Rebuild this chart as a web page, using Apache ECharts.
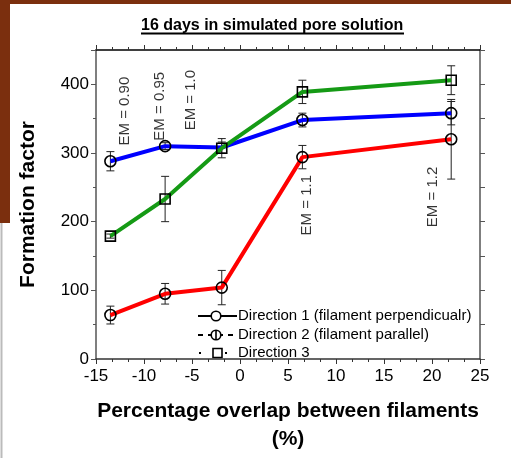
<!DOCTYPE html>
<html><head><meta charset="utf-8">
<script src="https://cdn.jsdelivr.net/npm/echarts@6/dist/echarts.min.js"></script>
<style>html,body{margin:0;padding:0;background:#fff}#c{width:511px;height:458px}</style>
</head><body><div id="c"></div>
<script>
const overlap = [-13.5, -7.8, -1.9, 6.5, 22];
const dir1 = [288, 310, 308, 348, 358];
const err1 = [14, 5, 8, 10, 17];
const dir2 = [64, 95, 104, 294, 320];
const err2 = [13, 15, 25, 17, 58];
const dir3 = [179, 233, 307, 389, 406];
const err3 = [3, 33, 14, 17, 21];
const emX = [-12, -8.3, -5.1, 7.0, 20.1];
const emY = [361, 368, 377, 224, 236];
const emText = ['EM = 0.90', 'EM = 0.95', 'EM = 1.0', 'EM = 1.1', 'EM = 1.2'];
const names = ['Direction 1 (filament perpendicualr)', 'Direction 2 (filament parallel)', 'Direction 3'];
const xTicks = [-15, 25, 5];
const yTicks = [0, 450, 100];

const F = "'Liberation Sans', Arial, sans-serif";
const chart = echarts.init(document.getElementById('c'));

function pts(v, skip) { return overlap.map((x, i) => skip && skip.includes(i) ? {value:[x, v[i]], symbol:'none'} : [x, v[i]]); }
function errData(v, e) { return overlap.map((x, i) => [x, v[i] - e[i], v[i] + e[i]]); }
function errSeries(v, e) {
  return {
    type: 'custom', z: 5, silent: true,
    data: errData(v, e),
    renderItem: function (params, api) {
      const lo = api.coord([api.value(0), api.value(1)]);
      const hi = api.coord([api.value(0), api.value(2)]);
      const w = 4;
      const st = {stroke: '#222', lineWidth: 1};
      return {type: 'group', children: [
        {type: 'line', shape: {x1: lo[0], y1: lo[1], x2: hi[0], y2: hi[1]}, style: st},
        {type: 'line', shape: {x1: lo[0]-w, y1: lo[1], x2: lo[0]+w, y2: lo[1]}, style: st},
        {type: 'line', shape: {x1: hi[0]-w, y1: hi[1], x2: hi[0]+w, y2: hi[1]}, style: st}
      ]};
    }
  };
}
const mk = {color: 'rgba(0,0,0,0)', borderColor: '#000', borderWidth: 1.6};
function lineSeries(name, v, color, symbol, skip, z) {
  return {
    name: name, type: 'line', data: pts(v, skip), z: z,
    symbol: symbol, symbolSize: symbol === 'rect' ? 10 : 11,
    showAllSymbol: true,
    lineStyle: {color: color, width: 4},
    itemStyle: mk,
    emphasis: {disabled: true}
  };
}

// legend drawn as graphic (black keys as in the original)
const LX = 198, LW = 39, LY = [316, 335, 353];
const legendGraphic = [
  {type: 'line', shape: {x1: LX, y1: LY[0], x2: LX + LW, y2: LY[0]}, style: {stroke: '#000', lineWidth: 2}},
  {type: 'circle', shape: {cx: 216, cy: LY[0], r: 4.8}, style: {stroke: '#000', lineWidth: 1.6, fill: '#fff'}},
  {type: 'line', shape: {x1: LX, y1: LY[1], x2: LX + LW, y2: LY[1]}, style: {stroke: '#000', lineWidth: 2, lineDash: [5, 5]}},
  {type: 'circle', shape: {cx: 216, cy: LY[1], r: 4.8}, style: {stroke: '#000', lineWidth: 1.6, fill: '#fff'}},
  {type: 'line', shape: {x1: 216, y1: LY[1] - 5, x2: 216, y2: LY[1] + 5}, style: {stroke: '#000', lineWidth: 1.6}},
  {type: 'rect', shape: {x: 199, y: LY[2] - 1, width: 2, height: 2}, style: {fill: '#000'}},
  {type: 'rect', shape: {x: 225, y: LY[2] - 1, width: 2, height: 2}, style: {fill: '#000'}},
  {type: 'rect', shape: {x: 213, y: LY[2] - 4.5, width: 9, height: 9}, style: {stroke: '#000', lineWidth: 1.6, fill: '#fff'}}
].concat(names.map((n, i) => ({
  type: 'text', x: 238, y: LY[i], style: {text: n, font: '15px ' + F, fill: '#000', textVerticalAlign: 'middle', textAlign: 'left'}
})));

chart.setOption({
  animation: false,
  grid: {left: 96, right: 31, top: 50, bottom: 98},
  xAxis: [{
    type: 'value', min: xTicks[0], max: xTicks[1], interval: xTicks[2], position: 'bottom',
    axisLine: {onZero: false, lineStyle: {color: '#333', width: 1.5}},
    axisTick: {inside: false, length: 5, lineStyle: {color: '#333'}},
    minorTick: {show: true, splitNumber: 3, length: 3, lineStyle: {color: '#333'}},
    splitLine: {show: false},
    axisLabel: {fontFamily: F, fontSize: 17, color: '#000', margin: 9},
    name: 'Percentage overlap between filaments\n(%)', nameLocation: 'middle', nameGap: 38,
    nameTextStyle: {fontFamily: F, fontSize: 21, fontWeight: 'bold', color: '#000', lineHeight: 28}
  }, {
    type: 'value', min: xTicks[0], max: xTicks[1], interval: xTicks[2], position: 'top',
    axisLine: {onZero: false, lineStyle: {color: '#000', width: 1.5}},
    axisTick: {inside: false, length: 5, lineStyle: {color: '#333'}},
    minorTick: {show: true, splitNumber: 3, length: 3, lineStyle: {color: '#333'}},
    splitLine: {show: false}, axisLabel: {show: false}
  }],
  yAxis: [{
    type: 'value', min: yTicks[0], max: yTicks[1], interval: yTicks[2], position: 'left',
    axisLine: {show: true, onZero: false, lineStyle: {color: '#555', width: 1.5}},
    axisTick: {show: true, inside: false, length: 5, lineStyle: {color: '#555'}},
    minorTick: {show: true, splitNumber: 2, length: 3, lineStyle: {color: '#555'}},
    splitLine: {show: false},
    axisLabel: {fontFamily: F, fontSize: 17, color: '#000', margin: 7, showMaxLabel: false},
    name: 'Formation factor', nameLocation: 'middle', nameGap: 57,
    nameTextStyle: {fontFamily: F, fontSize: 21, fontWeight: 'bold', color: '#000'}
  }, {
    type: 'value', min: yTicks[0], max: yTicks[1], interval: 50, position: 'right',
    axisLine: {show: true, onZero: false, lineStyle: {color: '#555', width: 1.5}},
    axisTick: {show: true, inside: false, length: 5, lineStyle: {color: '#555'}},
    splitLine: {show: false}, axisLabel: {show: false}
  }],
  graphic: [
    {type: 'rect', shape: {x: 0, y: 0, width: 511, height: 4}, style: {fill: '#7b2f0e'}, z: 100},
    {type: 'rect', shape: {x: 0, y: 0, width: 10, height: 223}, style: {fill: '#7b2f0e'}, z: 100},
    {type: 'line', shape: {x1: 1.5, y1: 223, x2: 1.5, y2: 458}, style: {stroke: '#bbb', lineWidth: 2}, z: 100},
    {type: 'text', x: 141, y: 25.5, style: {text: '16 days in simulated pore solution', font: 'bold 16px ' + F, fill: '#000', textAlign: 'left', textVerticalAlign: 'middle'}},
    {type: 'line', shape: {x1: 141, y1: 33.5, x2: 404, y2: 33.5}, style: {stroke: '#000', lineWidth: 2}}
  ].concat(legendGraphic),
  series: [
    errSeries(dir1, err1), errSeries(dir2, err2), errSeries(dir3, err3),
    lineSeries(names[0], dir1, '#0000ff', 'circle', [2], 10),
    lineSeries(names[1], dir2, '#ff0000', 'circle', [], 11),
    lineSeries(names[2], dir3, '#159a15', 'rect', [], 12),
    {
      type: 'scatter', symbolSize: 1, itemStyle: {color: 'rgba(0,0,0,0)'}, silent: true, z: 20,
      data: emX.map((x, i) => ({value: [x, emY[i]], label: {formatter: emText[i]}})),
      label: {show: true, position: 'inside', rotate: 90, fontFamily: F, fontSize: 15, color: '#000', align: 'center', verticalAlign: 'middle'}
    }
  ]
});
</script></body></html>
